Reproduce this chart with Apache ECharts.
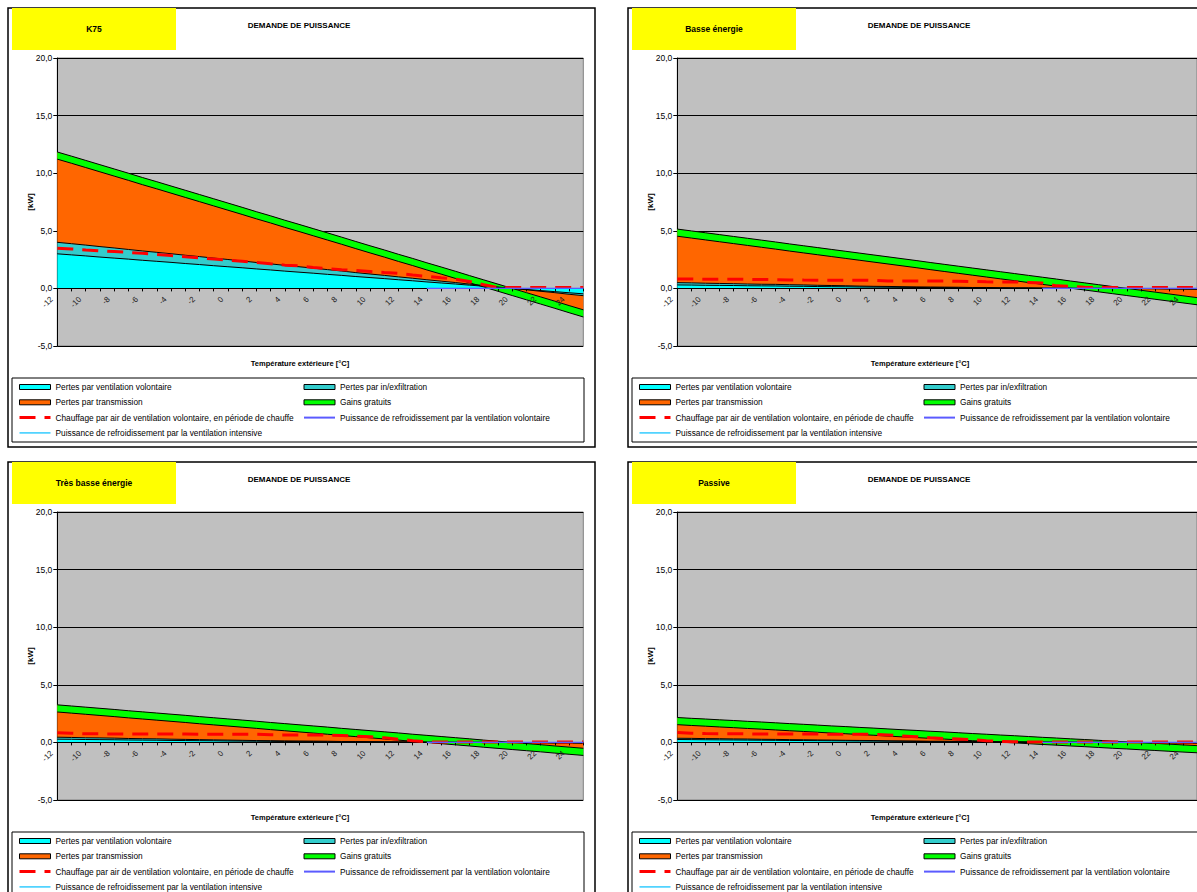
<!DOCTYPE html>
<html><head><meta charset="utf-8">
<script src="https://cdn.jsdelivr.net/npm/echarts@6/dist/echarts.min.js"></script>
<style>html,body{margin:0;padding:0;background:#fff}#c{width:1197px;height:892px}</style>
</head><body><div id="c"></div>
<script>
// ---------- data ----------
const temperatures = ['-12','-11','-10','-9','-8','-7','-6','-5','-4','-3','-2','-1','0','1','2','3','4','5','6','7','8','9','10','11','12','13','14','15','16','17','18','19','20','21','22','23','24','25'];
const yTickValues = [-5, 0, 5, 10, 15, 20];
const panelNames = ['K75', 'Basse énergie', 'Très basse énergie', 'Passive'];
const chartTitle = 'DEMANDE DE PUISSANCE';
const xAxisTitle = 'Température extérieure [°C]';
const yAxisTitle = '[kW]';

const S_VENT = 'Pertes par ventilation volontaire';
const S_INFIL = 'Pertes par in/exfiltration';
const S_TRANS = 'Pertes par transmission';
const S_GAINS = 'Gains gratuits';
const S_HEAT = 'Chauffage par air de ventilation volontaire, en période de chauffe';
const S_COOLVOL = 'Puissance de refroidissement par la ventilation volontaire';
const S_COOLINT = 'Puissance de refroidissement par la ventilation intensive';

// K75
const k75Vent  = [3.00,2.91,2.82,2.72,2.63,2.54,2.44,2.35,2.26,2.16,2.07,1.97,1.88,1.79,1.69,1.60,1.50,1.41,1.32,1.22,1.13,1.03,0.94,0.85,0.75,0.66,0.56,0.47,0.38,0.28,0.19,0.09,0.00,-0.09,-0.19,-0.28,-0.38,-0.47];
const k75Infil = [1.00,0.97,0.94,0.91,0.88,0.84,0.81,0.78,0.75,0.72,0.69,0.66,0.63,0.59,0.56,0.53,0.50,0.47,0.44,0.41,0.38,0.34,0.31,0.28,0.25,0.22,0.19,0.16,0.13,0.09,0.06,0.03,0.00,-0.03,-0.06,-0.09,-0.13,-0.16];
const k75Trans = [7.84,7.60,7.35,7.11,6.86,6.62,6.37,6.13,5.88,5.64,5.39,5.15,4.90,4.66,4.41,4.17,3.92,3.68,3.43,3.19,2.94,2.70,2.45,2.21,1.96,1.72,1.47,1.23,0.98,0.74,0.49,0.25,0.00,-0.25,-0.49,-0.74,-0.98,-1.23];
const k75Gains = [-0.62,-0.62,-0.62,-0.62,-0.62,-0.62,-0.62,-0.62,-0.62,-0.62,-0.62,-0.62,-0.62,-0.62,-0.62,-0.62,-0.62,-0.62,-0.62,-0.62,-0.62,-0.62,-0.62,-0.62,-0.62,-0.62,-0.62,-0.62,-0.62,-0.62,-0.62,-0.62,-0.62,-0.62,-0.62,-0.62,-0.62,-0.62];
const k75Heat  = [3.49,3.42,3.34,3.27,3.20,3.12,3.05,2.95,2.85,2.75,2.65,2.55,2.46,2.36,2.25,2.13,2.02,1.96,1.82,1.72,1.62,1.55,1.47,1.38,1.30,1.16,1.05,0.92,0.80,0.60,0.32,0.07,0.07,0.07,0.07,0.07,0.07,0.07];
const k75CoolVol = [null,null,null,null,null,null,null,null,null,null,null,null,null,null,null,null,null,null,null,null,null,null,null,null,null,null,0,0,0,0,0,0,0,0,0,0,0,0];
const k75CoolInt = [null,null,null,null,null,null,null,null,null,null,null,null,null,null,null,null,null,null,null,null,null,null,null,null,null,null,0,0,0,0,0,0,0,0,0,0,0,0];

// Basse énergie
const basVent  = [0.30,0.29,0.27,0.26,0.25,0.23,0.22,0.21,0.19,0.18,0.16,0.15,0.14,0.12,0.11,0.10,0.09,0.08,0.07,0.07,0.06,0.05,0.05,0.04,0.03,0.03,0.02,0.02,0.01,0.01,0.01,0.00,0.00,-0.01,-0.02,-0.03,-0.04,-0.05];
const basInfil = [0.20,0.19,0.18,0.17,0.16,0.15,0.14,0.14,0.13,0.12,0.11,0.10,0.09,0.08,0.07,0.07,0.06,0.05,0.05,0.04,0.04,0.03,0.03,0.02,0.02,0.02,0.01,0.01,0.01,0.00,0.00,0.00,0.00,-0.01,-0.01,-0.02,-0.02,-0.03];
const basTrans = [4.65,4.51,4.38,4.24,4.10,3.97,3.83,3.68,3.54,3.40,3.27,3.13,2.99,2.86,2.72,2.57,2.43,2.29,2.13,1.98,1.83,1.69,1.53,1.39,1.24,1.08,0.94,0.78,0.62,0.47,0.31,0.16,0.00,-0.14,-0.29,-0.43,-0.58,-0.72];
const basGains = [-0.62,-0.62,-0.62,-0.62,-0.62,-0.62,-0.62,-0.62,-0.62,-0.62,-0.62,-0.62,-0.62,-0.62,-0.62,-0.62,-0.62,-0.62,-0.62,-0.62,-0.62,-0.62,-0.62,-0.62,-0.62,-0.62,-0.62,-0.62,-0.62,-0.62,-0.62,-0.62,-0.62,-0.62,-0.62,-0.62,-0.62,-0.62];
const basHeat  = [0.82,0.81,0.80,0.80,0.80,0.79,0.77,0.76,0.74,0.72,0.71,0.71,0.71,0.71,0.69,0.65,0.64,0.65,0.65,0.64,0.62,0.60,0.57,0.56,0.56,0.52,0.46,0.22,0.19,0.10,0.07,0.07,0.07,0.07,0.07,0.07,0.07,0.07];
const basCoolVol = [null,null,null,null,null,null,null,null,null,null,null,null,null,null,null,null,null,null,null,null,null,null,null,null,null,null,0,0,0,0,0,0,0,0,0,0,0,0];
const basCoolInt = [null,null,null,null,null,null,null,null,null,null,null,null,null,null,null,null,null,null,null,null,null,null,null,null,null,null,0,0,0,0,0,0,0,0,0,0,0,0];

// Très basse énergie
const tbeVent  = [0.28,0.27,0.25,0.24,0.23,0.21,0.20,0.19,0.17,0.16,0.15,0.14,0.12,0.11,0.10,0.09,0.08,0.07,0.07,0.06,0.05,0.05,0.04,0.04,0.03,0.03,0.02,0.02,0.01,0.01,0.01,0.00,0.00,-0.01,-0.02,-0.03,-0.03,-0.04];
const tbeInfil = [0.17,0.16,0.15,0.15,0.14,0.13,0.12,0.12,0.11,0.10,0.09,0.08,0.08,0.07,0.06,0.06,0.05,0.05,0.04,0.04,0.03,0.03,0.03,0.02,0.02,0.01,0.01,0.01,0.01,0.00,0.00,0.00,0.00,-0.01,-0.01,-0.02,-0.02,-0.03];
const tbeTrans = [2.81,2.73,2.66,2.57,2.49,2.41,2.33,2.24,2.17,2.09,2.00,1.92,1.84,1.76,1.68,1.58,1.50,1.41,1.32,1.23,1.14,1.04,0.95,0.86,0.77,0.67,0.58,0.48,0.39,0.30,0.19,0.10,0.00,-0.08,-0.17,-0.26,-0.36,-0.44];
const tbeGains = [-0.62,-0.62,-0.62,-0.62,-0.62,-0.62,-0.62,-0.62,-0.62,-0.62,-0.62,-0.62,-0.62,-0.62,-0.62,-0.62,-0.62,-0.62,-0.62,-0.62,-0.62,-0.62,-0.62,-0.62,-0.62,-0.62,-0.62,-0.62,-0.62,-0.62,-0.62,-0.62,-0.62,-0.62,-0.62,-0.62,-0.62,-0.62];
const tbeHeat  = [0.84,0.79,0.75,0.74,0.74,0.73,0.73,0.73,0.73,0.72,0.71,0.71,0.71,0.71,0.70,0.66,0.65,0.65,0.65,0.64,0.60,0.55,0.48,0.40,0.28,0.15,0.04,0.04,0.04,0.04,0.04,0.04,0.04,0.04,0.04,0.04,0.04,0.04];
const tbeCoolVol = [null,null,null,null,null,null,null,null,null,null,null,null,null,null,null,null,null,null,null,null,null,null,null,null,null,null,0,0,0,0,0,0,0,0,0,0,0,0];
const tbeCoolInt = [null,null,null,null,null,null,null,null,null,null,null,null,null,null,null,null,null,null,null,null,null,null,null,null,null,null,0,0,0,0,0,0,0,0,0,0,0,0];

// Passive
const pasVent  = [0.25,0.24,0.23,0.22,0.21,0.20,0.19,0.18,0.17,0.16,0.15,0.14,0.13,0.12,0.11,0.10,0.09,0.08,0.07,0.07,0.06,0.05,0.05,0.04,0.04,0.03,0.03,0.02,0.02,0.01,0.01,0.00,0.00,-0.01,-0.02,-0.02,-0.03,-0.04];
const pasInfil = [0.11,0.11,0.10,0.10,0.09,0.09,0.08,0.08,0.07,0.07,0.06,0.06,0.05,0.05,0.05,0.04,0.04,0.04,0.03,0.03,0.03,0.02,0.02,0.02,0.02,0.01,0.01,0.01,0.01,0.00,0.00,0.00,0.00,-0.01,-0.01,-0.01,-0.02,-0.02];
const pasTrans = [1.80,1.74,1.70,1.64,1.60,1.54,1.50,1.44,1.39,1.34,1.29,1.23,1.19,1.13,1.08,1.03,0.97,0.92,0.87,0.81,0.75,0.70,0.64,0.58,0.52,0.47,0.40,0.35,0.28,0.24,0.17,0.11,0.05,0.00,-0.05,-0.12,-0.17,-0.22];
const pasGains = [-0.62,-0.62,-0.62,-0.62,-0.62,-0.62,-0.62,-0.62,-0.62,-0.62,-0.62,-0.62,-0.62,-0.62,-0.62,-0.62,-0.62,-0.62,-0.62,-0.62,-0.62,-0.62,-0.62,-0.62,-0.62,-0.62,-0.62,-0.62,-0.62,-0.62,-0.62,-0.62,-0.62,-0.62,-0.62,-0.62,-0.62,-0.62];
const pasHeat  = [0.85,0.79,0.77,0.76,0.75,0.74,0.74,0.74,0.73,0.72,0.72,0.71,0.71,0.71,0.70,0.65,0.55,0.50,0.40,0.34,0.29,0.24,0.15,0.09,0.05,0.04,0.04,0.04,0.04,0.04,0.04,0.04,0.04,0.04,0.04,0.04,0.04,0.04];
const pasCoolVol = [null,null,null,null,null,null,null,null,null,null,null,null,null,null,null,null,null,null,null,null,null,null,null,null,null,null,0,0,0,0,0,0,0,0,0,0,0,0];
const pasCoolInt = [null,null,null,null,null,null,null,null,null,null,null,null,null,null,null,null,null,null,null,null,null,null,null,null,null,null,0,0,0,0,0,0,0,0,0,0,0,0];

// ---------- build ----------
const FONT = '"Liberation Sans", Arial, sans-serif';
const C_VENT = '#00FFFF', C_INFIL = '#33CCCC', C_TRANS = '#FF6600', C_GAINS = '#00FF00';
const C_HEAT = '#FF0000', C_COOLVOL = '#5B5BFF', C_COOLINT = '#33CCFF';

const panels = [
  {vent:k75Vent, infil:k75Infil, trans:k75Trans, gains:k75Gains, heat:k75Heat, coolVol:k75CoolVol, coolInt:k75CoolInt},
  {vent:basVent, infil:basInfil, trans:basTrans, gains:basGains, heat:basHeat, coolVol:basCoolVol, coolInt:basCoolInt},
  {vent:tbeVent, infil:tbeInfil, trans:tbeTrans, gains:tbeGains, heat:tbeHeat, coolVol:tbeCoolVol, coolInt:tbeCoolInt},
  {vent:pasVent, infil:pasInfil, trans:pasTrans, gains:pasGains, heat:pasHeat, coolVol:pasCoolVol, coolInt:pasCoolInt}
];
const offsets = [[0,0],[620,0],[0,454],[620,454]];
const GRID_H = 288;
const yMin = yTickValues[0], yMax = yTickValues[yTickValues.length-1];
const zeroOffset = -GRID_H * (0 - yMin) / (yMax - yMin); // move category axis up to y = 0

const grids = [], xAxes = [], yAxes = [], series = [], legends = [], graphics = [];

function areaSeries(i, name, data, color) {
  return {type:'line', name, xAxisIndex:i, yAxisIndex:i, data, stack:'stk'+i, stackStrategy:'all',
    symbol:'none', showSymbol:false, silent:true, z:2,
    lineStyle:{color:'#000', width:1}, itemStyle:{color}, areaStyle:{color, opacity:1}};
}
function lineSeries(i, name, data, color, width, type, z) {
  return {type:'line', name, xAxisIndex:i, yAxisIndex:i, data, symbol:'none', showSymbol:false,
    silent:true, z, connectNulls:false, lineStyle:{color, width, type}, itemStyle:{color}};
}

const legendText = {fontSize:8.3, lineHeight:10, color:'#000', fontFamily:FONT};
const areaItem = (name, color) => ({name, icon:'rect', itemStyle:{color, borderColor:'#000', borderWidth:1}});
const lineItem = (name, color, width, type) => ({name, itemStyle:{color:'rgba(0,0,0,0)', borderColor:'rgba(0,0,0,0)', borderWidth:0}, lineStyle:{color, width, type}});

offsets.forEach(([dx, dy], i) => {
  const p = panels[i];
  grids.push({left:57.3+dx, top:58+dy, width:526, height:GRID_H, show:true, backgroundColor:'#C0C0C0', borderColor:'#808080', borderWidth:1});
  xAxes.push({gridIndex:i, type:'category', data:temperatures, boundaryGap:false, z:3, position:'bottom', offset:zeroOffset,
    axisLine:{onZero:false, lineStyle:{color:'#000', width:1}},
    axisTick:{show:true, interval:0, length:3, lineStyle:{color:'#000'}},
    axisLabel:{interval:1, rotate:45, fontSize:8, color:'#222', margin:4, padding:[0, 8, 0, 0], fontFamily:FONT},
    splitLine:{show:false}});
  yAxes.push({gridIndex:i, type:'value', min:yMin, max:yMax, interval:5,
    axisLine:{show:true, lineStyle:{color:'#000', width:1}},
    axisTick:{show:true, length:4, lineStyle:{color:'#000'}},
    axisLabel:{fontSize:8.5, color:'#000', margin:5, fontFamily:FONT, formatter:v => v.toFixed(1).replace('.', ',')},
    splitLine:{show:true, lineStyle:{color:'#000', width:1}}});
  series.push(areaSeries(i, S_VENT, p.vent, C_VENT));
  series.push(areaSeries(i, S_INFIL, p.infil, C_INFIL));
  series.push(areaSeries(i, S_TRANS, p.trans, C_TRANS));
  series.push(areaSeries(i, S_GAINS, p.gains, C_GAINS));
  series.push(lineSeries(i, S_HEAT, p.heat, C_HEAT, 3, [16, 9], 4));
  series.push(lineSeries(i, S_COOLINT, p.coolInt, C_COOLINT, 1, 'solid', 5));
  series.push(lineSeries(i, S_COOLVOL, p.coolVol, C_COOLVOL, 1.2, 'solid', 6));

  legends.push({orient:'vertical', left:18+dx, top:382+dy, padding:0, itemGap:5.3, itemWidth:31, itemHeight:5,
    selectedMode:false, textStyle:legendText,
    data:[areaItem(S_VENT, C_VENT), areaItem(S_TRANS, C_TRANS), lineItem(S_HEAT, C_HEAT, 3, [16, 9]), lineItem(S_COOLINT, C_COOLINT, 1.5, 'solid')]});
  legends.push({orient:'vertical', left:303+dx, top:382+dy, padding:0, itemGap:5.3, itemWidth:31, itemHeight:5,
    selectedMode:false, textStyle:legendText,
    data:[areaItem(S_INFIL, C_INFIL), areaItem(S_GAINS, C_GAINS), lineItem(S_COOLVOL, C_COOLVOL, 2, 'solid')]});

  graphics.push({type:'rect', z:-5, silent:true, shape:{x:8+dx, y:8+dy, width:587, height:439}, style:{fill:'none', stroke:'#000', lineWidth:1.5}});
  graphics.push({type:'rect', z:1, silent:true, shape:{x:12+dx, y:8+dy, width:164, height:42}, style:{fill:'#FFFF00'}});
  graphics.push({type:'text', z:2, silent:true, x:94+dx, y:29+dy, style:{text:panelNames[i], fontSize:8.5, fontWeight:'bold', fontFamily:FONT, fill:'#000', align:'center', verticalAlign:'middle'}});
  graphics.push({type:'text', z:2, silent:true, x:299+dx, y:25+dy, style:{text:chartTitle, fontSize:8, fontWeight:'bold', fontFamily:FONT, fill:'#000', align:'center', verticalAlign:'middle'}});
  graphics.push({type:'text', z:2, silent:true, x:30+dx, y:202+dy, rotation:Math.PI/2, style:{text:yAxisTitle, fontSize:8, fontWeight:'bold', fontFamily:FONT, fill:'#000', align:'center', verticalAlign:'middle'}});
  graphics.push({type:'text', z:2, silent:true, x:300+dx, y:363+dy, style:{text:xAxisTitle, fontSize:7.5, fontWeight:'bold', fontFamily:FONT, fill:'#000', align:'center', verticalAlign:'middle'}});
  graphics.push({type:'rect', z:1, silent:true, shape:{x:12+dx, y:378+dy, width:572, height:64}, style:{fill:'none', stroke:'#000', lineWidth:1}});
});

const chart = echarts.init(document.getElementById('c'), null, {renderer:'svg', width:1197, height:892});
chart.setOption({
  animation:false,
  backgroundColor:'#fff',
  textStyle:{fontFamily:FONT},
  grid:grids, xAxis:xAxes, yAxis:yAxes, series, legend:legends, graphic:graphics
});
</script>
</body></html>
